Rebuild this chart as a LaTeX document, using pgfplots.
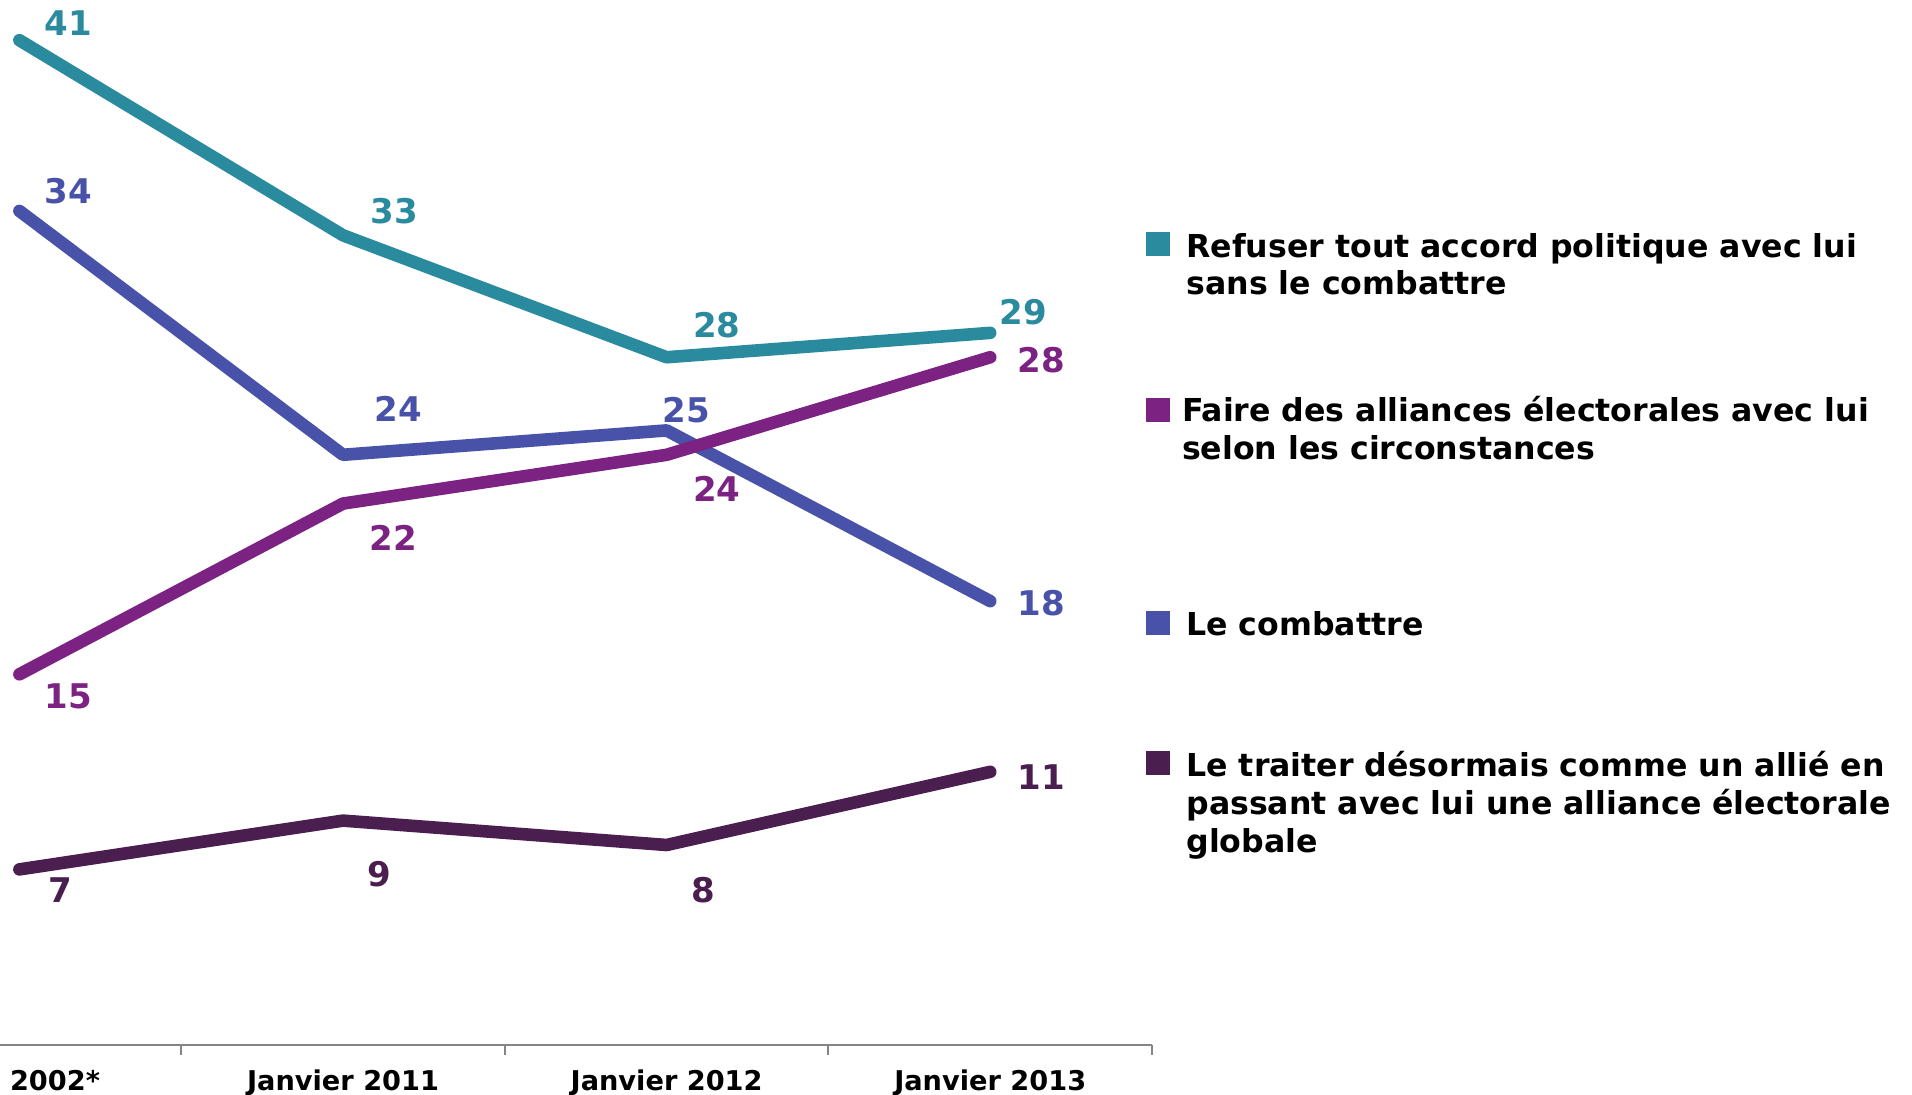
\documentclass[border=0pt]{standalone}
\usepackage{fontspec}
\setmainfont{DejaVu Sans}
\usepackage{pgfplots}
\pgfplotsset{compat=1.18}

\definecolor{cteal}{HTML}{2A8A9E}
\definecolor{cblue}{HTML}{4852A8}
\definecolor{cpurple}{HTML}{7B2282}
\definecolor{cplum}{HTML}{4A1E4F}
\definecolor{caxis}{HTML}{858585}

\tikzset{lbl/.style={font=\bfseries\fontsize{17}{20}\selectfont}}

\begin{document}
\begin{tikzpicture}
% page: 956pt x 547.5pt (1 px = 0.5pt)
\path[use as bounding box] (0,-25pt) rectangle (956pt,522.5pt);
\begin{axis}[
    at={(0,0)}, anchor=south west,
    scale only axis,
    width=576pt, height=522.5pt,
    xmin=-0.06, xmax=3.5,
    ymin=-0.2, ymax=42.65,
    axis lines=none,
    clip=false,
    every axis plot/.append style={line width=6.3pt, line cap=round, line join=round},
]
    % axe du bas et separateurs
    \draw[caxis, line width=1.4pt] (rel axis cs:0,0) -- (rel axis cs:1,0);
    \pgfplotsinvokeforeach{0.5,1.5,2.5,3.5}{
        \draw[caxis, line width=1pt] (axis cs:#1,-0.2) -- ([yshift=-5pt]axis cs:#1,-0.2);
    }

    % Refuser tout accord
    \addplot[cteal] coordinates {(0,41) (1,33) (2,28) (3,29)};
    % Le combattre
    \addplot[cblue] coordinates {(0,34) (1,24) (2,25) (3,18)};
    % Faire des alliances
    \addplot[cpurple] coordinates {(0,15) (1,22) (2,24) (3,28)};
    % Le traiter comme un allie
    \addplot[cplum] coordinates {(0,7) (1,9) (2,8) (3,11)};

    % etiquettes de valeurs
    \node[lbl, cteal] at (axis cs:0.151,41.7) {41};
    \node[lbl, cteal] at (axis cs:1.158,34.0) {33};
    \node[lbl, cteal] at (axis cs:2.155,29.3) {28};
    \node[lbl, cteal] at (axis cs:3.102,29.85) {29};

    \node[lbl, cblue] at (axis cs:0.151,34.8) {34};
    \node[lbl, cblue] at (axis cs:1.170,25.9) {24};
    \node[lbl, cblue] at (axis cs:2.060,25.85) {25};
    \node[lbl, cblue] at (axis cs:3.158,17.9) {18};

    \node[lbl, cpurple] at (axis cs:0.151,14.1) {15};
    \node[lbl, cpurple] at (axis cs:1.155,20.6) {22};
    \node[lbl, cpurple] at (axis cs:2.155,22.6) {24};
    \node[lbl, cpurple] at (axis cs:3.158,27.9) {28};

    \node[lbl, cplum] at (axis cs:0.125,6.15) {7};
    \node[lbl, cplum] at (axis cs:1.113,6.8) {9};
    \node[lbl, cplum] at (axis cs:2.113,6.15) {8};
    \node[lbl, cplum] at (axis cs:3.158,10.8) {11};

    % categories
    \begin{scope}[every node/.style={font=\bfseries\fontsize{13.6}{16}\selectfont, anchor=base}]
        \node at ([yshift=-23pt]axis cs:0.11,-0.2) {2002*};
        \node at ([yshift=-23pt]axis cs:1,-0.2) {Janvier 2011};
        \node at ([yshift=-23pt]axis cs:2,-0.2) {Janvier 2012};
        \node at ([yshift=-23pt]axis cs:3,-0.2) {Janvier 2013};
    \end{scope}
\end{axis}

% legende
\begin{scope}[every node/.style={font=\bfseries\fontsize{15.8}{19}\selectfont, anchor=base west, inner sep=0pt}]
    \fill[cteal]   (573pt,394.6pt) rectangle ++(12pt,12pt);
    \node at (593pt,393.9pt) {Refuser tout accord politique avec lui};
    \node at (593pt,375.0pt) {sans le combattre};

    \fill[cpurple] (573pt,311.6pt) rectangle ++(12pt,12pt);
    \node at (590.8pt,311.6pt) {Faire des alliances électorales avec lui};
    \node at (590.8pt,292.6pt) {selon les circonstances};

    \fill[cblue]   (573pt,205.0pt) rectangle ++(12pt,12pt);
    \node at (593pt,204.9pt) {Le combattre};

    \fill[cplum]   (573pt,134.8pt) rectangle ++(12pt,12pt);
    \node at (593pt,134.1pt) {Le traiter désormais comme un allié en};
    \node at (593pt,115.2pt) {passant avec lui une alliance électorale};
    \node at (593pt,96.3pt) {globale};
\end{scope}
\end{tikzpicture}
\end{document}
